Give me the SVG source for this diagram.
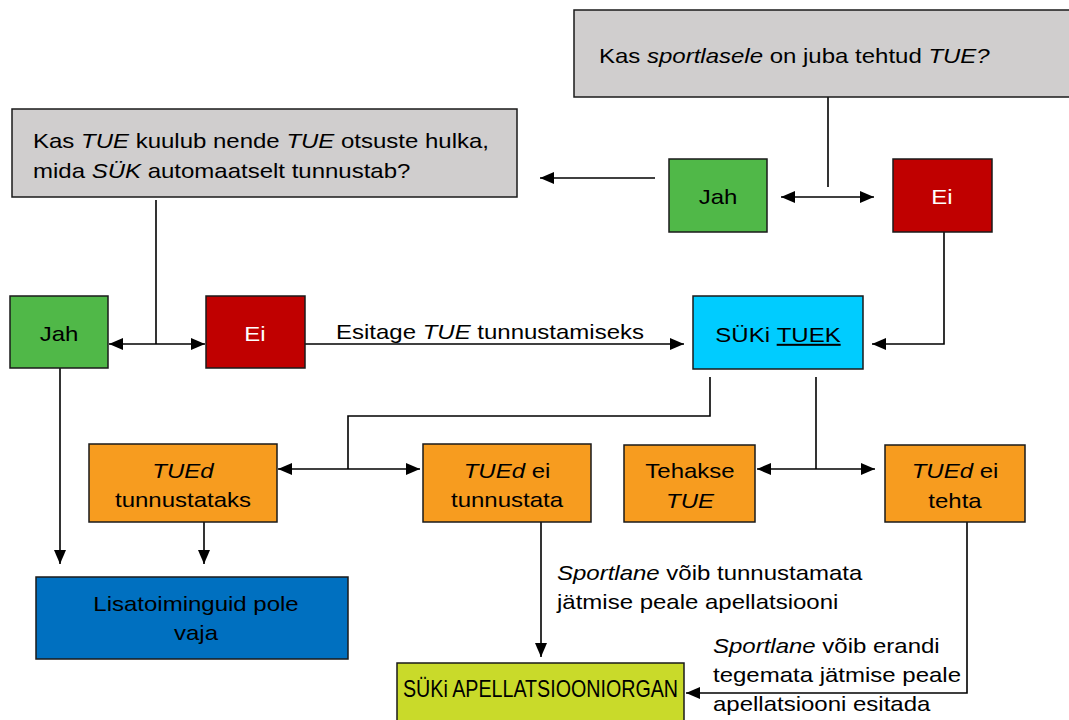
<svg xmlns="http://www.w3.org/2000/svg" width="1069" height="720" viewBox="0 0 1069 720">
<style>
text{font-family:"Liberation Sans",Arial,sans-serif;font-size:20px;fill:#000}
.c{text-anchor:middle}
.w{fill:#fff}
.i{font-style:italic}
.box{stroke:#1a1a1a;stroke-width:1.5}
.ln{fill:none;stroke:#000;stroke-width:1.6}
</style>
<defs>
<marker id="a" viewBox="0 0 14 12" refX="14" refY="6" markerWidth="14" markerHeight="12" markerUnits="userSpaceOnUse" orient="auto-start-reverse">
<path d="M0,0 L14,6 L0,12 z" fill="#000"/>
</marker>
</defs>
<rect width="1069" height="720" fill="#fff"/>
<g id="connectors">
<path class="ln" d="M828,97 V187"/>
<path class="ln" d="M781,197 H874" marker-start="url(#a)" marker-end="url(#a)"/>
<path class="ln" d="M655,178 H540" marker-end="url(#a)"/>
<path class="ln" d="M156,200 V344"/>
<path class="ln" d="M109,344 H205" marker-start="url(#a)" marker-end="url(#a)"/>
<path class="ln" d="M305,344 H684" marker-end="url(#a)"/>
<path class="ln" d="M944,232 V344 H872" marker-end="url(#a)"/>
<path class="ln" d="M710,377 V416 H348 V469"/>
<path class="ln" d="M278,469 H420" marker-start="url(#a)" marker-end="url(#a)"/>
<path class="ln" d="M816,377 V469"/>
<path class="ln" d="M757,469 H875" marker-start="url(#a)" marker-end="url(#a)"/>
<path class="ln" d="M60,368 V564" marker-end="url(#a)"/>
<path class="ln" d="M204,522 V564" marker-end="url(#a)"/>
<path class="ln" d="M541,522 V657" marker-end="url(#a)"/>
<path class="ln" d="M967,522 V693 H686" marker-end="url(#a)"/>
<text transform="translate(336,339) scale(1.2,1)">Esitage <tspan class="i">TUE</tspan> tunnustamiseks</text>
<text transform="translate(557,580) scale(1.2,1)"><tspan class="i">Sportlane</tspan> võib tunnustamata</text>
<text transform="translate(557,609) scale(1.2,1)">jätmise peale apellatsiooni</text>
<text transform="translate(713,653) scale(1.2,1)"><tspan class="i">Sportlane</tspan> võib erandi</text>
<text transform="translate(713,682) scale(1.2,1)">tegemata jätmise peale</text>
<text transform="translate(713,711) scale(1.2,1)">apellatsiooni esitada</text>
</g>
<g id="q1">
<rect class="box" x="574" y="10" width="500" height="87" fill="#D0CECE"/>
<text transform="translate(599,63) scale(1.2,1)">Kas <tspan class="i">sportlasele</tspan> on juba tehtud <tspan class="i">TUE?</tspan></text>
</g>
<g id="jah1">
<rect class="box" x="669" y="159" width="98" height="73" fill="#50B848"/>
<text class="c" transform="translate(718,204) scale(1.2,1)">Jah</text>
</g>
<g id="ei1">
<rect class="box" x="893" y="159" width="99" height="73" fill="#C00000"/>
<text class="c w" transform="translate(942,204) scale(1.2,1)">Ei</text>
</g>
<g id="q2">
<rect class="box" x="12" y="109" width="505" height="88" fill="#D0CECE"/>
<text transform="translate(33,148) scale(1.2,1)">Kas <tspan class="i">TUE</tspan> kuulub nende <tspan class="i">TUE</tspan> otsuste hulka,</text>
<text transform="translate(33,178) scale(1.2,1)">mida <tspan class="i">SÜK</tspan> automaatselt tunnustab?</text>
</g>
<g id="jah2">
<rect class="box" x="10" y="296" width="98" height="72" fill="#50B848"/>
<text class="c" transform="translate(59,341) scale(1.2,1)">Jah</text>
</g>
<g id="ei2">
<rect class="box" x="206" y="296" width="99" height="72" fill="#C00000"/>
<text class="c w" transform="translate(255,341) scale(1.2,1)">Ei</text>
</g>
<g id="tuek">
<rect class="box" x="693" y="296" width="170" height="73" fill="#00CCFF"/>
<text class="c" transform="translate(778,342) scale(1.2,1)">SÜKi <tspan text-decoration="underline">TUEK</tspan></text>
</g>
<g id="tunnustataks">
<rect class="box" x="89" y="444" width="188" height="78" fill="#F79C1F"/>
<text class="c i" transform="translate(183,478) scale(1.2,1)">TUEd</text>
<text class="c" transform="translate(183,507) scale(1.2,1)">tunnustataks</text>
</g>
<g id="eitunnustata">
<rect class="box" x="423" y="444" width="168" height="78" fill="#F79C1F"/>
<text class="c" transform="translate(507,478) scale(1.2,1)"><tspan class="i">TUEd</tspan> ei</text>
<text class="c" transform="translate(507,507) scale(1.2,1)">tunnustata</text>
</g>
<g id="tehakse">
<rect class="box" x="624" y="445" width="131" height="77" fill="#F79C1F"/>
<text class="c" transform="translate(690,478) scale(1.2,1)">Tehakse</text>
<text class="c i" transform="translate(690,508) scale(1.2,1)">TUE</text>
</g>
<g id="eitehta">
<rect class="box" x="885" y="445" width="140" height="77" fill="#F79C1F"/>
<text class="c" transform="translate(955,478) scale(1.2,1)"><tspan class="i">TUEd</tspan> ei</text>
<text class="c" transform="translate(955,508) scale(1.2,1)">tehta</text>
</g>
<g id="lisa">
<rect class="box" x="36" y="577" width="312" height="82" fill="#0070C0"/>
<text class="c" transform="translate(196,611) scale(1.2,1)">Lisatoiminguid pole</text>
<text class="c" transform="translate(196,640) scale(1.2,1)">vaja</text>
</g>
<g id="apell">
<rect class="box" x="397" y="663" width="287" height="70" fill="#C9DA2A"/>
<text x="403" y="697" style="font-size:24px" textLength="275" lengthAdjust="spacingAndGlyphs">SÜKi APELLATSIOONIORGAN</text>
</g>
</svg>
